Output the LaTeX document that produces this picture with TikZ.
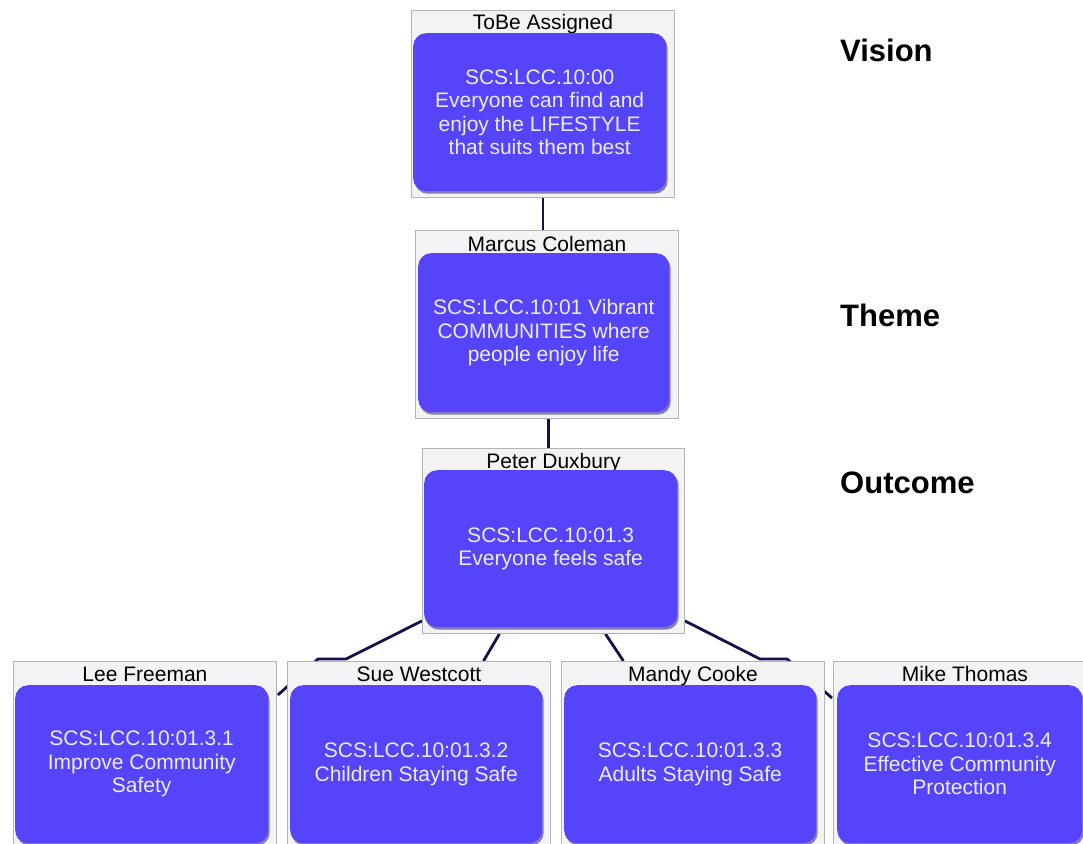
\documentclass[tikz,border=0pt]{standalone}
\usepackage{fontspec}
\setmainfont{Liberation Sans}
\usetikzlibrary{shadows,calc,backgrounds}
\definecolor{cardblue}{RGB}{86,68,250}
\definecolor{cardshade}{RGB}{40,32,130}
\definecolor{framefill}{RGB}{243,243,243}
\definecolor{frameline}{RGB}{180,180,180}
\definecolor{linknavy}{RGB}{18,18,78}
\definecolor{cardtext}{RGB}{236,236,255}
\begin{document}
\begin{tikzpicture}[x=1pt,y=-1pt,
  frame/.style={draw=frameline, fill=framefill, line width=0.9pt, inner sep=0pt,
    anchor=north west, minimum width=263pt, minimum height=187pt},
  card/.style={fill=cardblue, rounded corners=13pt, inner sep=0pt, anchor=north west,
    minimum width=253pt, minimum height=158pt, align=center, text=cardtext,
    font=\fontsize{21}{23.5}\selectfont,
    drop shadow={shadow xshift=1.5pt, shadow yshift=-2.5pt, fill=cardshade, opacity=0.55}},
  owner/.style={inner sep=0pt, anchor=base, text=black, font=\fontsize{21}{23}\selectfont},
  level/.style={anchor=west, inner sep=0pt, font=\bfseries\fontsize{31}{31}\selectfont},
  link/.style={draw=linknavy, line width=2.8pt, line join=round}]
\useasboundingbox (0,0) rectangle (1083,843);
\clip (0,0) rectangle (1083,843);

% frames with owner names
\node[frame] (vis) at (411,10) {};
\node[frame, minimum height=188pt] (thm) at (415,230) {};
\node[frame, minimum width=262pt, minimum height=185pt] (out) at (422,448) {};
\node[frame, minimum height=200pt] (lee) at (13,661) {};
\node[frame, minimum height=200pt] (sue) at (287,661) {};
\node[frame, minimum height=200pt] (mdy) at (561,661) {};
\node[frame, minimum height=200pt] (mik) at (833,661) {};

\node[owner] (vis-t) at ($(vis.north)+(0,19.5)$) {ToBe Assigned};
\node[owner] (thm-t) at ($(thm.north)+(0,21)$) {Marcus Coleman};
\node[owner] (out-t) at ($(out.north)+(0,20)$) {Peter Duxbury};
\node[owner] (lee-t) at ($(lee.north)+(0,20)$) {Lee Freeman};
\node[owner] (sue-t) at ($(sue.north)+(0,20)$) {Sue Westcott};
\node[owner] (mdy-t) at ($(mdy.north)+(0,20)$) {Mandy Cooke};
\node[owner] (mik-t) at ($(mik.north)+(0,20)$) {Mike Thomas};

% blue cards
\node[card] (vis-c) at (413,33) {SCS:LCC.10:00\\Everyone can find and\\enjoy the LIFESTYLE\\that suits them best};
\node[card, minimum width=251pt, minimum height=159pt] (thm-c) at (418,253) {SCS:LCC.10:01 Vibrant\\COMMUNITIES where\\people enjoy life};
\node[card, minimum height=157pt] (out-c) at (424,470) {SCS:LCC.10:01.3\\Everyone feels safe};
\node[card] (lee-c) at (15,685) {SCS:LCC.10:01.3.1\\Improve Community\\Safety};
\node[card, minimum width=252pt] (sue-c) at (290,685) {SCS:LCC.10:01.3.2\\Children Staying Safe};
\node[card, minimum width=252pt] (mdy-c) at (564,685) {SCS:LCC.10:01.3.3\\Adults Staying Safe};
\node[card, minimum width=245pt] (mik-c) at (837,685) {SCS:LCC.10:01.3.4\\Effective Community\\Protection};

% level labels
\node[level] (l-vis) at (840,50) {Vision};
\node[level] (l-thm) at (840,315) {Theme};
\node[level] (l-out) at (840,483) {Outcome};

% connectors behind the frames
\begin{pgfonlayer}{background}
  \fill[white] (0,0) rectangle (1083,843);
  \coordinate (b1) at (346,659);
  \coordinate (b2) at (318,659);
  \coordinate (b3) at (760,659);
  \coordinate (b4) at (787,659);
  \draw[link] (vis.south) -- (vis.south |- thm.north);
  \draw[link] ($(thm.south)+(1.5,0)$) -- ($(thm.south |- out.north)+(1.5,0)$);
  \draw[link] ($(out.south west)+(0,-13)$) -- (b1) -- (b2) -- ($(lee.north east)+(1,34)$);
  \draw[link] ($(out.south)+(-54,0)$) -- ($(sue.north)+(64.5,0)$);
  \draw[link] ($(out.south)+(52,0)$) -- ($(mdy.north)+(-69.5,0)$);
  \draw[link] ($(out.south east)+(0,-13)$) -- (b3) -- (b4) -- ($(mik.north west)+(-1,37)$);
\end{pgfonlayer}
\end{tikzpicture}
\end{document}
